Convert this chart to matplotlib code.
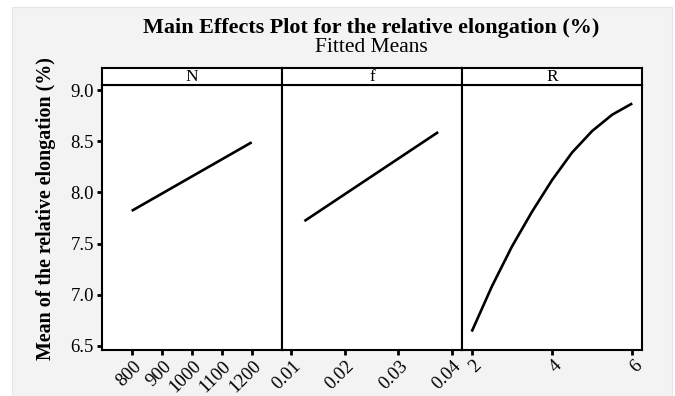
import matplotlib
matplotlib.use("Agg")
import matplotlib.pyplot as plt
from matplotlib.patches import Rectangle
from matplotlib.transforms import ScaledTranslation

# ---- data ----
N_levels = [800, 1200]
N_means = [7.82, 8.49]
f_levels = [0.0125, 0.0375]
f_means = [7.72, 8.59]
R_levels = [2.0, 2.5, 3.0, 3.5, 4.0, 4.5, 5.0, 5.5, 6.0]
R_means = [6.64, 7.08, 7.47, 7.81, 8.12, 8.39, 8.60, 8.76, 8.87]

factors = ["N", "f", "R"]
N_ticks = [800, 900, 1000, 1100, 1200]
f_ticks = [0.01, 0.02, 0.03, 0.04]
R_ticks = [2, 4, 6]
y_ticks = [6.5, 7.0, 7.5, 8.0, 8.5, 9.0]

W, H = 675, 396
plt.rcParams["font.family"] = ["Liberation Serif", "DejaVu Serif"]
fig = plt.figure(figsize=(W / 100, H / 100), dpi=100, facecolor="white")

# gray background panel
bg = Rectangle((12 / W, 0), (672 - 12) / W, (396 - 7) / H,
               transform=fig.transFigure, facecolor="#f3f3f3",
               edgecolor="#e6e6e6", lw=0.8, zorder=-10)
fig.patches.append(bg)

def px_ax(x0, x1, ytop, ybot):
    return [x0 / W, (H - ybot) / H, (x1 - x0) / W, (ybot - ytop) / H]

edges = [101.7, 281.7, 462.3, 641.7]
panel_top, panel_bot = 85, 350
strip_top = 68

data = [
    (N_levels, N_means, N_ticks, (700, 1300), [str(t) for t in N_ticks]),
    (f_levels, f_means, f_ticks, (0.00826, 0.042), ["0.01", "0.02", "0.03", "0.04"]),
    (R_levels, R_means, R_ticks, (1.765, 6.235), [str(t) for t in R_ticks]),
]

LW = 1.5
shift = ScaledTranslation(1 / 100, 0, fig.dpi_scale_trans)
for i, (xs, ys, ticks, xlim, tlabels) in enumerate(data):
    ax = fig.add_axes(px_ax(edges[i], edges[i + 1], panel_top, panel_bot))
    ax.set_facecolor("white")
    ax.plot(xs, ys, color="black", lw=1.9, solid_capstyle="butt")
    ax.set_xlim(*xlim)
    ax.set_ylim(6.46, 9.05)
    ax.set_xticks(ticks)
    ax.set_xticklabels(tlabels, rotation=45, ha="right", va="top",
                       rotation_mode="anchor", fontsize=13.5)
    ax.tick_params(axis="x", length=3.5, width=2, pad=2, color="black")
    for lab in ax.get_xticklabels():
        lab.set_transform(lab.get_transform() + shift)
    for s in ax.spines.values():
        s.set_linewidth(LW)
        s.set_color("black")
    if i == 0:
        ax.set_yticks(y_ticks)
        ax.set_yticklabels([f"{v:.1f}" for v in y_ticks], fontsize=13.5)
        ax.tick_params(axis="y", length=3.5, width=2, pad=2, color="black")
    else:
        ax.set_yticks([])

    sax = fig.add_axes(px_ax(edges[i], edges[i + 1], strip_top, panel_top))
    sax.set_facecolor("white")
    sax.set_xticks([])
    sax.set_yticks([])
    for s in sax.spines.values():
        s.set_linewidth(LW)
        s.set_color("black")
    sax.text(0.5, 0.45, factors[i], ha="center", va="center",
             transform=sax.transAxes, fontsize=12.5)

fig.text(46.5 / W, 1 - 209 / H, "Mean of the relative elongation (%)",
         rotation=90, ha="center", va="center", fontsize=14.4, fontweight="bold")
fig.text(371 / W, 1 - 27.5 / H, "Main Effects Plot for the relative elongation (%)",
         ha="center", va="center", fontsize=15.9, fontweight="bold")
fig.text(371 / W, 1 - 47.5 / H, "Fitted Means", ha="center", va="center",
         fontsize=15.5)

fig.savefig("out.png", dpi=100, facecolor="white")
